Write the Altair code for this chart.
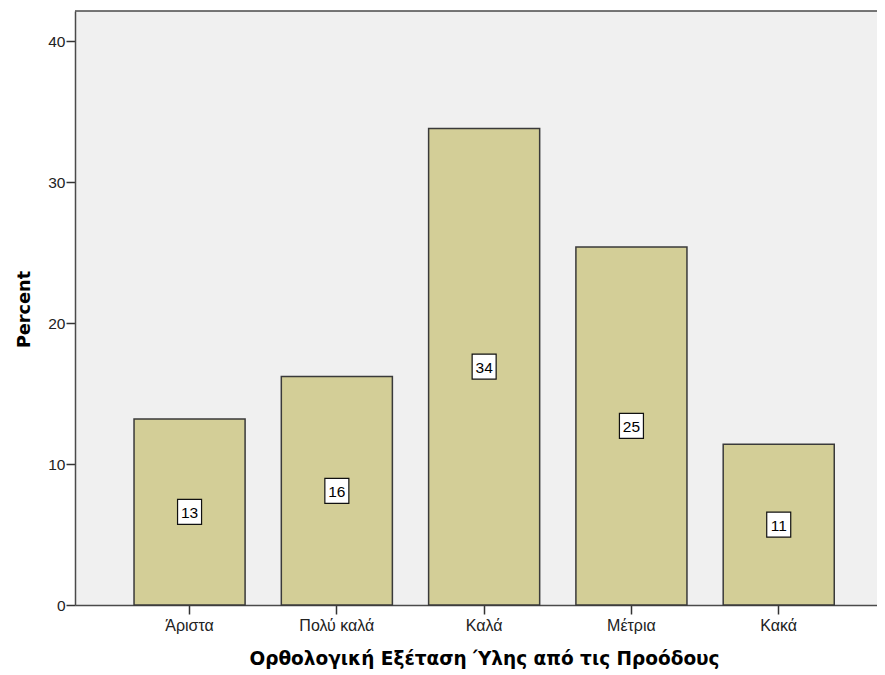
import altair as alt
import pandas as pd

categories = ["Άριστα", "Πολύ καλά", "Καλά", "Μέτρια", "Κακά"]
percents = [13.2, 16.2, 33.8, 25.4, 11.4]

df = pd.DataFrame({"cat": categories, "pct": percents})
df["mid"] = df["pct"] / 2

x_scale = alt.Scale(paddingInner=0.246, paddingOuter=0.3455, align=0.58)

x_enc = alt.X(
    "cat:N",
    sort=categories,
    scale=x_scale,
    axis=alt.Axis(
        title="Ορθολογική Εξέταση Ύλης από τις Προόδους",
        labelAngle=0,
        labelFont="Liberation Sans",
        labelFontSize=16,
        labelColor="#222222",
        labelPadding=3,
        tickSize=9,
        tickColor="#333333",
        tickWidth=1.5,
        domainColor="#4a4a4a",
        domainWidth=1.5,
        titleFont="DejaVu Sans",
        titleFontSize=18.5,
        titleFontWeight="bold",
        titleColor="#000000",
        titleAlign="center",
        titleBaseline="alphabetic",
        titleX=409,
        titleY=59,
    ),
)

y_scale = alt.Scale(domain=[0, 42.13], nice=False, zero=True)

bars = alt.Chart(df).mark_bar(
    fill="#D3CE97", stroke="#3a3a3a", strokeWidth=1.5
).encode(
    x=x_enc,
    y=alt.Y(
        "pct:Q",
        scale=y_scale,
        axis=alt.Axis(
            title="Percent",
            values=[0, 10, 20, 30, 40],
            grid=False,
            labelFont="Liberation Sans",
            labelFontSize=15.5,
            labelColor="#222222",
            labelPadding=1,
            tickSize=9,
            tickColor="#333333",
            tickWidth=1.5,
            domainColor="#4a4a4a",
            domainWidth=1.5,
            titleFont="DejaVu Sans",
            titleFontSize=17.7,
            titleFontWeight="bold",
            titleColor="#000000",
            titleAngle=-90,
            titleAlign="center",
            titleBaseline="alphabetic",
            titleX=-45.5,
            titleY=298,
        ),
    ),
)

top_border = alt.Chart(pd.DataFrame({"k": [0]})).mark_rule(
    color="#4a4a4a", strokeWidth=1.5
).encode(y=alt.value(0))

boxes = alt.Chart(df).mark_point(
    shape="M-0.96,-1H0.96V1H-0.96Z",
    size=625,
    filled=True,
    fill="white",
    stroke="#111111",
    strokeWidth=1.2,
    opacity=1,
).encode(
    x=alt.X("cat:N", sort=categories, scale=x_scale),
    y=alt.Y("mid:Q", scale=y_scale),
)

texts = alt.Chart(df).mark_text(
    font="Liberation Sans", fontSize=15.5, color="#000000", baseline="middle", align="center", dy=1
).encode(
    x=alt.X("cat:N", sort=categories, scale=x_scale),
    y=alt.Y("mid:Q", scale=y_scale),
    text=alt.Text("pct:Q", format=".0f"),
)

chart = (
    alt.layer(bars, top_border, boxes, texts)
    .properties(
        width=802,
        height=594,
        autosize=alt.AutoSizeParams(type="none"),
        padding={"left": 67, "top": 3, "right": 0, "bottom": 72},
        background="white",
    )
    .configure_view(fill="#F0F0F0", strokeWidth=0)
)

chart.save("out.html", embed_options={"renderer": "svg", "actions": False})
